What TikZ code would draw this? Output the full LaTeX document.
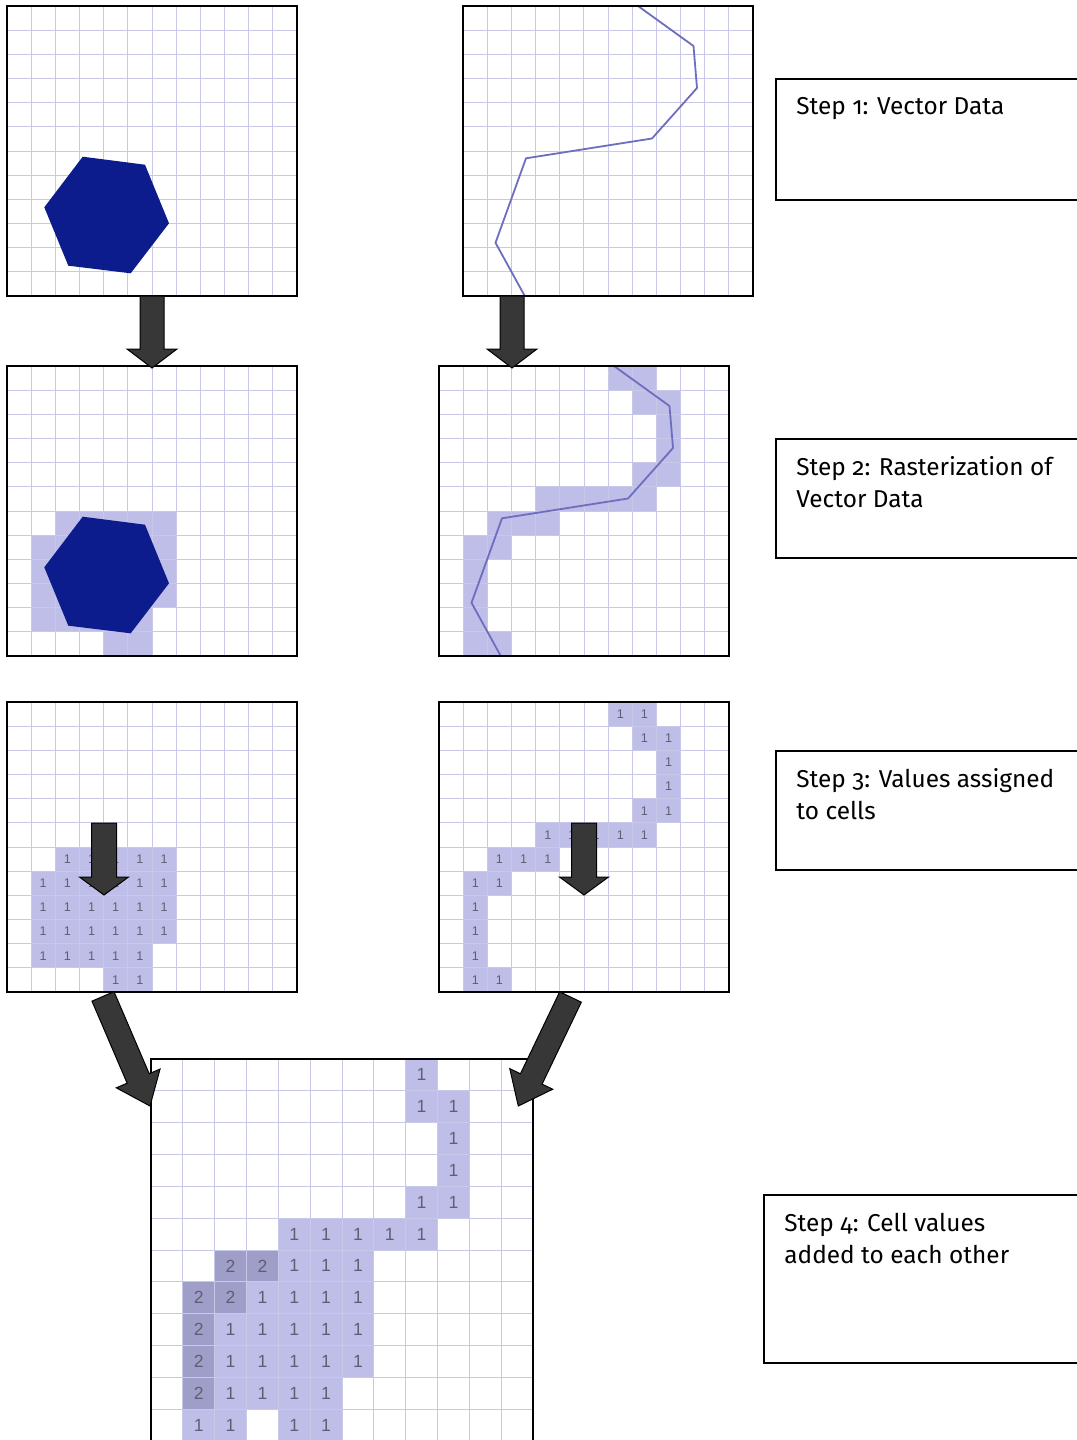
\documentclass[tikz,border=0pt]{standalone}
\usepackage{fontspec}
\setmainfont[Numbers=OldStyle]{Fira Sans}
\newfontfamily\cellfont{Liberation Sans}
\usetikzlibrary{calc}
\definecolor{gridc}{RGB}{200,200,232}
\definecolor{cellc}{RGB}{190,190,232}
\definecolor{celltwoc}{RGB}{158,158,200}
\definecolor{hexc}{RGB}{12,28,140}
\definecolor{linec}{RGB}{110,110,190}
\definecolor{arrowc}{RGB}{55,55,55}
\definecolor{numc}{RGB}{95,95,115}
\tikzset{
  gridline/.style={draw=gridc, line width=0.5pt},
  panelframe/.style={draw=black, line width=1pt, inner sep=0pt, outer sep=0pt, anchor=north west},
  smallpanel/.style={panelframe, minimum width=145pt, minimum height=145pt},
  bigpanel/.style={panelframe, minimum width=191pt, minimum height=191pt},
  cellone/.style={fill=cellc},
  celltwo/.style={fill=celltwoc},
  smallnum/.style={font=\cellfont\fontsize{6.3}{7}\selectfont, text=numc, inner sep=0pt},
  bignum/.style={font=\cellfont\fontsize{8.8}{9}\selectfont, text=numc, inner sep=0pt},
  stepbox/.style={draw=black, line width=1pt, anchor=north west, inner sep=0pt, outer sep=0pt},
  steptext/.style={anchor=base west, inner sep=0pt, font=\fontsize{12.2}{14}\selectfont},
  arrowstyle/.style={fill=arrowc, draw=black, line width=0.5pt, line join=miter},
  hexstyle/.style={fill=hexc},
  vline/.style={draw=linec, line width=0.9pt, line join=round},
}
% grid of 12x12 cells in a panel scope (units = one cell)
\newcommand\cellgrid{\foreach \i in {1,...,11}{\draw[gridline] (\i,0) -- (\i,12); \draw[gridline] (0,\i) -- (12,\i);}}
\newcommand\shaderow[3]{\foreach \c in {#2}{\fill[#3] (\c,#1) rectangle ++(1,1);}}
\newcommand\numrow[5]{\foreach \c in {#2}{\node[#4] (#5-#1-\c) at (\c+0.5,#1+0.5) {#3};}}
% block arrow from #1 to tip #2: shaft half width #3, head half width #4, head length #5
\newcommand\blockarrow[5]{%
  \coordinate (hb) at ($(#2)!#5!(#1)$);
  \filldraw[arrowstyle] ($(#1)!#3!90:(#2)$) -- ($(hb)!#3!90:(#2)$) -- ($(hb)!#4!90:(#2)$) -- (#2)
    -- ($(hb)!#4!-90:(#2)$) -- ($(hb)!#3!-90:(#2)$) -- ($(#1)!#3!-90:(#2)$) -- cycle;}
\newcommand\hexagon{\fill[hexstyle] (75.7,150.7) -- (138,158.7) -- (162,217.3) -- (123.7,267.3) -- (61.3,259.7) -- (37.3,201.3) -- cycle;}
\newcommand\riverline{\draw[vline] (175,0) -- (230.5,40) -- (234,82) -- (189,132.5) -- (63,152.3) -- (32.5,236.8) -- (61.5,289.5);}
\newcommand\hexcells[2]{%
  \shaderow{6}{2,...,6}{cellone}\shaderow{7}{1,...,6}{cellone}\shaderow{8}{1,...,6}{cellone}
  \shaderow{9}{1,...,6}{cellone}\shaderow{10}{1,...,5}{cellone}\shaderow{11}{4,5}{cellone}
  \cellgrid
  \ifnum#1=1
  \numrow{6}{2,...,6}{1}{smallnum}{#2}\numrow{7}{1,...,6}{1}{smallnum}{#2}\numrow{8}{1,...,6}{1}{smallnum}{#2}
  \numrow{9}{1,...,6}{1}{smallnum}{#2}\numrow{10}{1,...,5}{1}{smallnum}{#2}\numrow{11}{4,5}{1}{smallnum}{#2}
  \fi}
\newcommand\linecells[2]{%
  \shaderow{0}{7,8}{cellone}\shaderow{1}{8,9}{cellone}\shaderow{2}{9}{cellone}\shaderow{3}{9}{cellone}
  \shaderow{4}{8,9}{cellone}\shaderow{5}{4,...,8}{cellone}\shaderow{6}{2,3,4}{cellone}\shaderow{7}{1,2}{cellone}
  \shaderow{8}{1}{cellone}\shaderow{9}{1}{cellone}\shaderow{10}{1}{cellone}\shaderow{11}{1,2}{cellone}
  \cellgrid
  \ifnum#1=1
  \numrow{0}{7,8}{1}{smallnum}{#2}\numrow{1}{8,9}{1}{smallnum}{#2}\numrow{2}{9}{1}{smallnum}{#2}\numrow{3}{9}{1}{smallnum}{#2}
  \numrow{4}{8,9}{1}{smallnum}{#2}\numrow{5}{4,...,8}{1}{smallnum}{#2}\numrow{6}{2,3,4}{1}{smallnum}{#2}\numrow{7}{1,2}{1}{smallnum}{#2}
  \numrow{8}{1}{1}{smallnum}{#2}\numrow{9}{1}{1}{smallnum}{#2}\numrow{10}{1}{1}{smallnum}{#2}\numrow{11}{1,2}{1}{smallnum}{#2}
  \fi}
\begin{document}
\begin{tikzpicture}[x=0.5pt,y=-0.5pt]
\useasboundingbox (0,0) rectangle (1076,1440);
\fill[white] (0,0) rectangle (1076,1440);

% ---------- Step 1 ----------
\begin{scope}[xshift=3.5pt,yshift=-3pt,x=12.0833pt,y=-12.0833pt]
  \cellgrid
  \begin{scope}[x=0.5pt,y=-0.5pt]\hexagon\end{scope}
\end{scope}
\node[smallpanel] (A1) at (7,6) {};
\begin{scope}[xshift=231.5pt,yshift=-3pt,x=12.0833pt,y=-12.0833pt]
  \cellgrid
  \begin{scope}[x=0.5pt,y=-0.5pt]\riverline\end{scope}
\end{scope}
\node[smallpanel] (B1) at (463,6) {};

% ---------- Step 2 ----------
\begin{scope}[xshift=3.5pt,yshift=-183pt,x=12.0833pt,y=-12.0833pt]
  \hexcells{0}{a2}
  \begin{scope}[x=0.5pt,y=-0.5pt]\hexagon\end{scope}
\end{scope}
\node[smallpanel] (A2) at (7,366) {};
\begin{scope}[xshift=219.5pt,yshift=-183pt,x=12.0833pt,y=-12.0833pt]
  \linecells{0}{b2}
  \begin{scope}[x=0.5pt,y=-0.5pt]\riverline\end{scope}
\end{scope}
\node[smallpanel] (B2) at (439,366) {};

% ---------- Step 3 ----------
\begin{scope}[xshift=3.5pt,yshift=-351pt,x=12.0833pt,y=-12.0833pt]
  \hexcells{1}{a3}
\end{scope}
\node[smallpanel] (A3) at (7,702) {};
\begin{scope}[xshift=219.5pt,yshift=-351pt,x=12.0833pt,y=-12.0833pt]
  \linecells{1}{b3}
\end{scope}
\node[smallpanel] (B3) at (439,702) {};

% ---------- Step 4 ----------
\begin{scope}[xshift=75.5pt,yshift=-529.5pt,x=15.9167pt,y=-15.9167pt]
  \shaderow{0}{8}{cellone}\shaderow{1}{8,9}{cellone}\shaderow{2}{9}{cellone}\shaderow{3}{9}{cellone}
  \shaderow{4}{8,9}{cellone}\shaderow{5}{4,...,8}{cellone}\shaderow{6}{4,5,6}{cellone}\shaderow{7}{3,...,6}{cellone}
  \shaderow{8}{2,...,6}{cellone}\shaderow{9}{2,...,6}{cellone}\shaderow{10}{2,...,5}{cellone}\shaderow{11}{1,2,4,5}{cellone}
  \shaderow{6}{2,3}{celltwo}\shaderow{7}{1,2}{celltwo}\shaderow{8}{1}{celltwo}\shaderow{9}{1}{celltwo}\shaderow{10}{1}{celltwo}
  \cellgrid
  \numrow{0}{8}{1}{bignum}{c}\numrow{1}{8,9}{1}{bignum}{c}\numrow{2}{9}{1}{bignum}{c}\numrow{3}{9}{1}{bignum}{c}
  \numrow{4}{8,9}{1}{bignum}{c}\numrow{5}{4,...,8}{1}{bignum}{c}\numrow{6}{4,5,6}{1}{bignum}{c}\numrow{7}{3,...,6}{1}{bignum}{c}
  \numrow{8}{2,...,6}{1}{bignum}{c}\numrow{9}{2,...,6}{1}{bignum}{c}\numrow{10}{2,...,5}{1}{bignum}{c}\numrow{11}{1,2,4,5}{1}{bignum}{c}
  \numrow{6}{2,3}{2}{bignum}{c}\numrow{7}{1,2}{2}{bignum}{c}\numrow{8}{1}{2}{bignum}{c}\numrow{9}{1}{2}{bignum}{c}\numrow{10}{1}{2}{bignum}{c}
\end{scope}
\node[bigpanel] (C) at (151,1059) {};

% ---------- arrows ----------
\coordinate (a1s) at (152,296);   \coordinate (a1t) at (152,368);
\coordinate (a2s) at (512,296);   \coordinate (a2t) at (512,368);
\coordinate (a3s) at (104,823);   \coordinate (a3t) at (104,895);
\coordinate (a4s) at (584,823);   \coordinate (a4t) at (584,895);
\coordinate (a5s) at (103,996.4); \coordinate (a5t) at (150,1106);
\coordinate (a6s) at (570.5,997); \coordinate (a6t) at (518.3,1106);
\blockarrow{a1s}{a1t}{6pt}{12.5pt}{9.5pt}
\blockarrow{a2s}{a2t}{6pt}{12.5pt}{9.5pt}
\blockarrow{a3s}{a3t}{6.25pt}{12.25pt}{9pt}
\blockarrow{a4s}{a4t}{6.25pt}{12.25pt}{9pt}
\blockarrow{a5s}{a5t}{6pt}{11.9pt}{15pt}
\blockarrow{a6s}{a6t}{6pt}{11.9pt}{15pt}

% ---------- step boxes ----------
\node[stepbox, minimum width=157pt, minimum height=60.5pt] (box1) at (776,79) {};
\node[steptext] (t1a) at (796,114) {Step 1: Vector Data};
\node[stepbox, minimum width=157pt, minimum height=59.5pt] (box2) at (776,439) {};
\node[steptext] (t2a) at (796,475) {Step 2: Rasterization of};
\node[steptext] (t2b) at (796,507) {Vector Data};
\node[stepbox, minimum width=157pt, minimum height=59.5pt] (box3) at (776,751) {};
\node[steptext] (t3a) at (796,787) {Step 3: Values assigned};
\node[steptext] (t3b) at (796,819) {to cells};
\node[stepbox, minimum width=163pt, minimum height=84pt] (box4) at (764,1195) {};
\node[steptext] (t4a) at (784,1231) {Step 4: Cell values};
\node[steptext] (t4b) at (784,1263) {added to each other};
\end{tikzpicture}
\end{document}
